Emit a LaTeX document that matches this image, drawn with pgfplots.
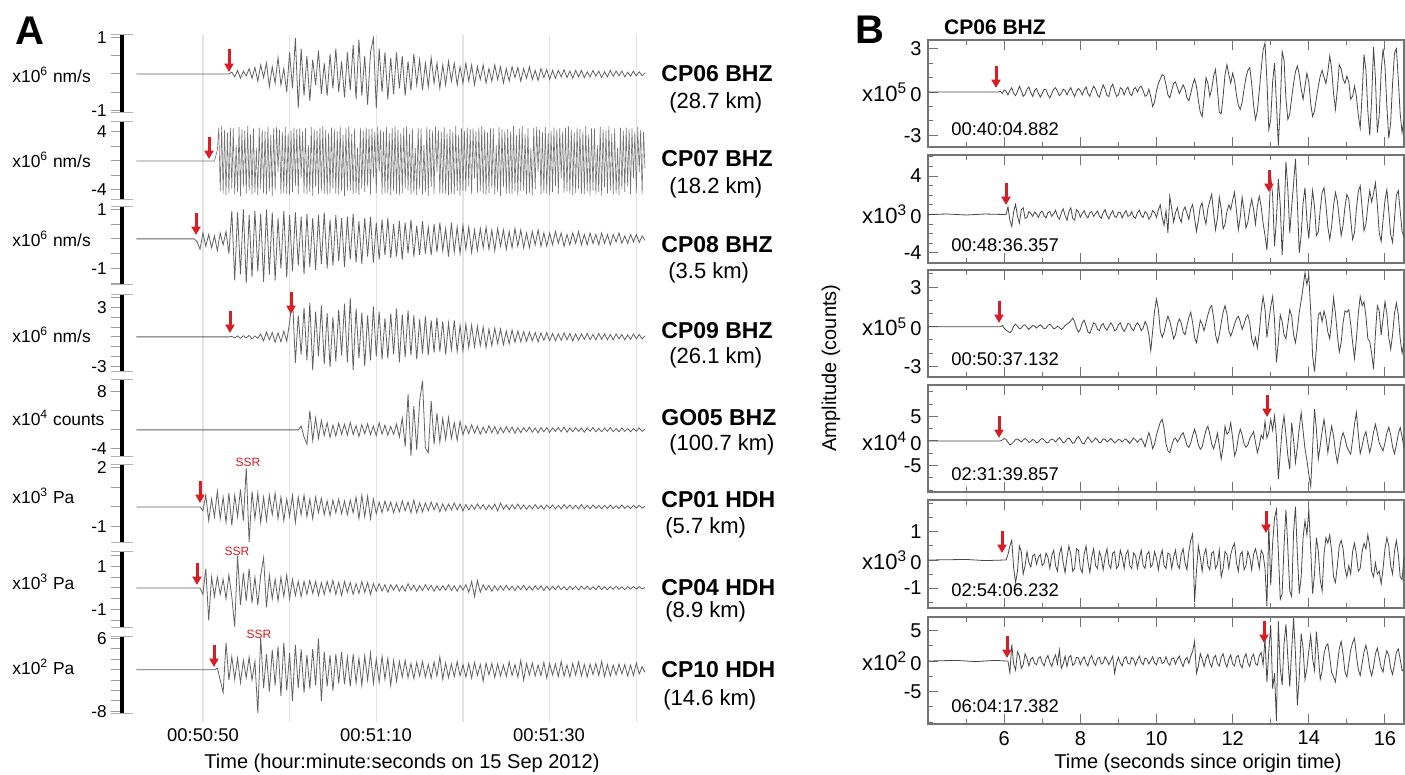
\documentclass[border=0pt]{standalone}
\usepackage{fontspec}
\setmainfont{Liberation Sans}
\usepackage{pgfplots}
\pgfplotsset{compat=1.18}
\usetikzlibrary{arrows.meta}
\definecolor{arr}{RGB}{218,28,36}
\newcommand\fs[1]{\fontsize{#1}{#1}\selectfont}
\tikzset{rarr/.style={draw=arr, line width=1.5pt, -{Triangle[width=4.5pt,length=4.2pt]}}}
\pgfplotsset{
 atr/.style={scale only axis, width=261.5pt, xmin=122, xmax=303, anchor=south west,
   axis x line=none, axis y line*=left, clip=false,
   y axis line style={line width=1.6pt, black, -},
   tick align=outside, major tick length=5.5pt,
   tick style={gray!75, line width=0.5pt},
   yticklabel style={font=\fs{8.6}, inner sep=0pt, xshift=-2pt},
   no markers, cycle list={{black!62, line width=0.38pt, line join=round}},
   extra description/.code={\draw[gray!60, line width=0.5pt] (0,0) ++(-5.5pt,0) -- ++(11pt,0); \draw[gray!60, line width=0.5pt] (0,1) ++(-5.5pt,0) -- ++(11pt,0);},
 },
 btr/.style={scale only axis, width=238pt, xmin=80, xmax=330, anchor=south west,
   axis line style={black!55, line width=0.6pt},
   xtick={120,160,...,320}, minor xtick={100,140,...,300}, xticklabels={},
   tick align=inside, ytick pos=left, xtick pos=both,
   major tick length=5pt, minor tick length=2.5pt,
   tick style={black!55, line width=0.5pt},
   yticklabel style={font=\fs{10}, inner sep=0pt, xshift=-3pt},
   no markers, cycle list={{black!72, line width=0.45pt, line join=round}},
 },
}
\begin{document}
\begin{tikzpicture}
\useasboundingbox (0,0) rectangle (702.5pt,387.5pt);
% grid for panel A
\begin{axis}[scale only axis, width=261.5pt, height=343.5pt, at={(61pt,26.5pt)}, anchor=south west,
  xmin=122, xmax=303, ymin=0, ymax=1, axis line style={draw=none}, major tick length=0pt,
  xtick={150,180,210,240,270,300}, xticklabels={}, ytick=\empty, xmajorgrids,
  major grid style={gray!22, line width=0.7pt}]
\addplot[draw=none] coordinates {(150,0.5)};
\end{axis}
% CP06
\begin{axis}[atr, height=39pt, at={(61pt,331pt)}, ymin=-1.08, ymax=1.08, ytick={-1,-0.5,0,0.5,1}, yticklabels={-1,{},{},{},1}]
\addplot coordinates {(127,0)(159,0)(160,0.05)(161,-0.08)(162,0.1)(163,-0.12)(164,0.08)(165,-0.05)(166,0.15)(167,-0.12)(168,0.18)(169,-0.2)
(170,0.25)(171,-0.1)(172,0.3)(173,-0.35)(174,0.2)(175,-0.25)(176,0.45)(177,-0.3)(178,0.15)(179,-0.5)
(180,0.6)(181,-0.4)(182,1.0)(183,-0.95)(184,0.7)(185,-0.6)(186,0.5)(187,-0.75)(188,0.4)(189,-0.3)
(190,0.65)(191,-0.55)(192,0.3)(193,-0.6)(194,0.55)(195,-0.4)(196,0.7)(197,-0.5)(198,0.35)(199,-0.65)
(200,0.6)(201,-0.45)(202,0.8)(203,-0.7)(204,0.95)(205,-0.6)(206,0.5)(207,-0.85)(208,0.6)(209,1.0)
(210,-0.95)(211,0.7)(212,-0.5)(213,0.6)(214,-0.7)(215,0.45)(216,-0.55)(217,0.6)(218,-0.4)(219,0.5)
(220,-0.6)(221,0.35)(222,-0.45)(223,0.55)(224,-0.3)(225,0.4)(226,-0.45)(227,0.3)(228,-0.35)(229,0.45)
(230,-0.25)(231,0.3)(232,-0.4)(233,0.25)(234,-0.3)(235,0.35)(236,-0.2)(237,0.3)(238,-0.3)(239,0.2)
(240,-0.25)(241,0.3)(242,-0.2)(243,0.25)(244,-0.3)(245,0.2)(246,-0.15)(247,0.25)(248,-0.25)(249,0.15)
(250,-0.2)(251,0.25)(252,-0.15)(253,0.2)(254,-0.25)(255,0.15)(256,-0.2)(257,0.2)(258,-0.1)(259,0.18)
(260,-0.2)(261,0.15)(262,-0.12)(263,0.2)(264,-0.15)(265,0.1)(266,-0.18)(267,0.15)(268,-0.1)(269,0.12)
(270,-0.15)(271,0.1)(272,-0.12)(273,0.1)(274,-0.08)(275,0.12)(276,-0.1)(277,0.08)(278,-0.12)(279,0.1)
(280,-0.08)(281,0.1)(282,-0.1)(283,0.06)(284,-0.08)(285,0.1)(286,-0.06)(287,0.08)(288,-0.1)(289,0.06)
(290,-0.08)(291,0.1)(292,-0.06)(293,0.08)(294,-0.05)(295,0.08)(296,-0.08)(297,0.05)(298,-0.06)(299,0.08)
(300,-0.05)(301,0.06)(302,-0.05)(303,0.03)};
\end{axis}
% CP07
\begin{axis}[atr, height=39pt, at={(61pt,287.5pt)}, ymin=-5.38, ymax=5.38, ytick={-4,-2,0,2,4}, yticklabels={-4,{},{},{},4}]
\addplot[black!55, line width=0.3pt] coordinates {(127,0)(154,0)(155,1.5)
(155.5,4.6)(156,-4.2)(156.5,4.8)(157,-4.5)(157.5,4.3)(158,-4.7)(158.5,3.9)(159,-4.4)(159.5,4.6)(160,-3.8)
(160.5,4.5)(161,-4.6)(161.5,2.2)(162,-4.3)(162.5,4.7)(163,-4.8)(163.5,4.4)(164,-3.6)(164.5,4.2)(165,-4.5)
(165.5,4.8)(166,-4.1)(166.5,3.7)(167,-4.6)(167.5,4.5)(168,-4.4)(168.5,1.8)(169,-4.7)(169.5,4.6)(170,-3.9)
(170.5,4.4)(171,-4.5)(171.5,4.1)(172,-4.6)(172.5,4.8)(173,-4.2)(173.5,3.6)(174,-4.8)(174.5,4.5)(175,-4.1)
(175.5,4.7)(176,-1.5)(176.5,4.3)(177,-4.6)(177.5,4.0)(178,-4.4)(178.5,4.7)(179,-4.5)(179.5,3.8)(180,-4.7)
(180.5,4.2)(181,-4.3)(181.5,4.6)(182,-3.5)(182.5,4.4)(183,-4.6)(183.5,4.5)(184,-2.4)(184.5,4.1)(185,-4.4)
(185.5,4.5)(186,-4.6)(186.5,2.2)(187,-4.3)(187.5,4.7)(188,-4.8)(188.5,4.4)(189,-3.6)(189.5,4.2)(190,-4.5)
(190.5,4.6)(191,-4.2)(191.5,4.8)(192,-4.5)(192.5,4.3)(193,-4.7)(193.5,3.9)(194,-4.4)(194.5,4.6)(195,-3.8)
(195.5,4.4)(196,-4.5)(196.5,4.1)(197,-4.6)(197.5,4.8)(198,-4.2)(198.5,3.6)(199,-4.8)(199.5,4.5)(200,-4.1)
(200.5,4.8)(201,-4.1)(201.5,3.7)(202,-4.6)(202.5,4.5)(203,-4.4)(203.5,1.8)(204,-4.7)(204.5,4.6)(205,-3.9)
(205.5,4.2)(206,-4.3)(206.5,4.6)(207,-3.5)(207.5,4.4)(208,-4.6)(208.5,4.5)(209,-2.4)(209.5,4.1)(210,-4.4)
(210.5,4.7)(211,-1.5)(211.5,4.3)(212,-4.6)(212.5,4.0)(213,-4.4)(213.5,4.7)(214,-4.5)(214.5,3.8)(215,-4.7)
(215.5,4.6)(216,-4.2)(216.5,4.8)(217,-4.5)(217.5,4.3)(218,-4.7)(218.5,3.9)(219,-4.4)(219.5,4.6)(220,-3.8)
(220.5,4.8)(221,-4.1)(221.5,3.7)(222,-4.6)(222.5,4.5)(223,-4.4)(223.5,1.8)(224,-4.7)(224.5,4.6)(225,-3.9)
(225.5,4.5)(226,-4.6)(226.5,2.2)(227,-4.3)(227.5,4.7)(228,-4.8)(228.5,4.4)(229,-3.6)(229.5,4.2)(230,-4.5)
(230.5,4.7)(231,-1.5)(231.5,4.3)(232,-4.6)(232.5,4.0)(233,-4.4)(233.5,4.7)(234,-4.5)(234.5,3.8)(235,-4.7)
(235.5,4.4)(236,-4.5)(236.5,4.1)(237,-4.6)(237.5,4.8)(238,-4.2)(238.5,3.6)(239,-4.8)(239.5,4.5)(240,-4.1)
(240.5,4.2)(241,-4.3)(241.5,4.6)(242,-3.5)(242.5,4.4)(243,-4.6)(243.5,4.5)(244,-2.4)(244.5,4.1)(245,-4.4)
(245.5,4.6)(246,-4.2)(246.5,4.8)(247,-4.5)(247.5,4.3)(248,-4.7)(248.5,3.9)(249,-4.4)(249.5,4.6)(250,-3.8)
(250.5,4.5)(251,-4.6)(251.5,2.2)(252,-4.3)(252.5,4.7)(253,-4.8)(253.5,4.4)(254,-3.6)(254.5,4.2)(255,-4.5)
(255.5,4.4)(256,-4.5)(256.5,4.1)(257,-4.6)(257.5,4.8)(258,-4.2)(258.5,3.6)(259,-4.8)(259.5,4.5)(260,-4.1)
(260.5,4.8)(261,-4.1)(261.5,3.7)(262,-4.6)(262.5,4.5)(263,-4.4)(263.5,1.8)(264,-4.7)(264.5,4.6)(265,-3.9)
(265.5,4.7)(266,-1.5)(266.5,4.3)(267,-4.6)(267.5,4.0)(268,-4.4)(268.5,4.7)(269,-4.5)(269.5,3.8)(270,-4.7)
(270.5,4.2)(271,-4.3)(271.5,4.6)(272,-3.5)(272.5,4.4)(273,-4.6)(273.5,4.5)(274,-2.4)(274.5,4.1)(275,-4.4)
(275.5,4.6)(276,-4.2)(276.5,4.8)(277,-4.5)(277.5,4.3)(278,-4.7)(278.5,3.9)(279,-4.4)(279.5,4.6)(280,-3.8)
(280.5,4.4)(281,-4.5)(281.5,4.1)(282,-4.6)(282.5,4.8)(283,-4.2)(283.5,3.6)(284,-4.8)(284.5,4.5)(285,-4.1)
(285.5,4.5)(286,-4.6)(286.5,2.2)(287,-4.3)(287.5,4.7)(288,-4.8)(288.5,4.4)(289,-3.6)(289.5,4.2)(290,-4.5)
(290.5,4.8)(291,-4.1)(291.5,3.7)(292,-4.6)(292.5,4.5)(293,-4.4)(293.5,1.8)(294,-4.7)(294.5,4.6)(295,-3.9)
(295.5,4.2)(296,-4.3)(296.5,4.6)(297,-3.5)(297.5,4.4)(298,-4.6)(298.5,4.5)(299,-2.4)(299.5,4.1)(300,-4.4)
(300.5,4.7)(301,-1.5)(301.5,4.3)(302,-4.6)(302.5,4.0)(303,-1.0)};
\end{axis}
% CP08
\begin{axis}[atr, height=39pt, at={(61pt,245pt)}, ymin=-1.56, ymax=1.08, ytick={-1.5,-1,-0.5,0,0.5,1}, yticklabels={{},-1,{},{},{},1}]
\addplot coordinates {(127,0)(147,0)(148,-0.1)(149,-0.35)(150,0.2)(151,-0.25)(152,0.15)(153,-0.3)(154,0.1)(155,-0.4)(156,0.2)(157,-0.2)(158,0.25)(159,-0.5)
(160,0.95)(161,-1.4)(162,0.9)(163,-1.2)(164,1.0)(165,-1.5)(166,0.8)(167,-1.3)(168,0.95)(169,-1.1)
(170,0.85)(171,-1.45)(172,1.0)(173,-1.2)(174,0.9)(175,-1.4)(176,0.7)(177,-1.0)(178,0.95)(179,-1.3)
(180,0.8)(181,-1.1)(182,0.9)(183,-0.9)(184,0.75)(185,-1.2)(186,0.85)(187,-0.95)(188,0.7)(189,-1.05)
(190,0.8)(191,-0.85)(192,0.9)(193,-1.0)(194,0.65)(195,-0.9)(196,0.8)(197,-0.75)(198,0.7)(199,-0.95)
(200,0.75)(201,-0.7)(202,0.85)(203,-0.8)(204,0.6)(205,-0.85)(206,0.7)(207,-0.6)(208,0.75)(209,-0.8)
(210,0.55)(211,-0.7)(212,0.65)(213,-0.55)(214,0.7)(215,-0.65)(216,0.5)(217,-0.6)(218,0.6)(219,-0.7)
(220,0.55)(221,-0.5)(222,0.65)(223,-0.6)(224,0.45)(225,-0.55)(226,0.6)(227,-0.5)(228,0.4)(229,-0.55)
(230,0.5)(231,-0.45)(232,0.55)(233,-0.4)(234,0.35)(235,-0.6)(236,0.55)(237,-0.45)(238,0.4)(239,-0.5)
(240,0.45)(241,-0.35)(242,0.4)(243,-0.45)(244,0.3)(245,-0.4)(246,0.35)(247,-0.3)(248,0.4)(249,-0.35)
(250,0.3)(251,-0.4)(252,0.35)(253,-0.25)(254,0.3)(255,-0.35)(256,0.25)(257,-0.3)(258,0.35)(259,-0.25)
(260,0.3)(261,-0.3)(262,0.2)(263,-0.3)(264,0.25)(265,-0.2)(266,0.3)(267,-0.25)(268,0.2)(269,-0.25)
(270,0.2)(271,-0.2)(272,0.25)(273,-0.15)(274,0.2)(275,-0.25)(276,0.15)(277,-0.2)(278,0.2)(279,-0.15)
(280,0.25)(281,-0.2)(282,0.15)(283,-0.2)(284,0.2)(285,-0.15)(286,0.15)(287,-0.2)(288,0.2)(289,-0.15)
(290,0.15)(291,-0.2)(292,0.15)(293,-0.1)(294,0.2)(295,-0.15)(296,0.1)(297,-0.15)(298,0.15)(299,-0.1)
(300,0.15)(301,-0.12)(302,0.1)(303,-0.05)};
\end{axis}
% CP09
\begin{axis}[atr, height=38.5pt, at={(61pt,201.5pt)}, ymin=-3.6, ymax=4.3, ytick={-3,-2,-1,0,1,2,3,4}, yticklabels={-3,{},{},{},{},{},3,{}}]
\addplot coordinates {(127,0)(159,0)(160,0.05)(161,-0.1)(162,0.1)(163,-0.15)(164,0.12)(165,-0.1)(166,0.15)(167,-0.2)(168,0.1)(169,-0.15)
(170,0.3)(171,-0.4)(172,0.5)(173,-0.3)(174,0.45)(175,-0.55)(176,0.4)(177,-0.5)(178,0.6)(179,-0.45)
(180,1.5)(181,4.1)(182,-2.65)(183,2.2)(184,-1.8)(185,3.0)(186,-2.4)(187,3.5)(188,-3.4)(189,2.6)
(190,-2.0)(191,3.2)(192,-2.8)(193,2.4)(194,-3.1)(195,2.0)(196,-2.5)(197,2.8)(198,-1.9)(199,3.4)
(200,-2.6)(201,4.0)(202,-3.4)(203,2.9)(204,-2.2)(205,2.5)(206,-3.0)(207,2.2)(208,-2.4)(209,3.1)
(210,-2.0)(211,2.6)(212,-2.3)(213,1.9)(214,-2.2)(215,2.4)(216,-1.8)(217,2.9)(218,-2.6)(219,2.3)
(220,-2.1)(221,2.7)(222,-1.9)(223,2.2)(224,-2.3)(225,1.8)(226,-1.7)(227,2.1)(228,-1.9)(229,1.7)
(230,-1.6)(231,2.0)(232,-1.5)(233,1.6)(234,-1.8)(235,1.4)(236,-1.3)(237,1.7)(238,-1.5)(239,1.2)
(240,-1.4)(241,1.3)(242,-1.1)(243,1.2)(244,-1.0)(245,1.1)(246,-0.9)(247,1.0)(248,-1.1)(249,0.8)
(250,-0.9)(251,0.9)(252,-0.7)(253,0.8)(254,-0.8)(255,0.6)(256,-0.7)(257,0.7)(258,-0.55)(259,0.6)
(260,-0.5)(261,0.55)(262,-0.45)(263,0.5)(264,-0.4)(265,0.45)(266,-0.5)(267,0.4)(268,-0.35)(269,0.45)
(270,-0.4)(271,0.35)(272,-0.4)(273,0.3)(274,-0.35)(275,0.4)(276,-0.3)(277,0.35)(278,-0.4)(279,0.3)
(280,-0.35)(281,0.3)(282,-0.25)(283,0.35)(284,-0.3)(285,0.25)(286,-0.3)(287,0.35)(288,-0.25)(289,0.3)
(290,-0.3)(291,0.25)(292,-0.3)(293,0.3)(294,-0.2)(295,0.25)(296,-0.3)(297,0.2)(298,-0.25)(299,0.3)
(300,-0.2)(301,0.25)(302,-0.2)(303,0.1)};
\end{axis}
% GO05
\begin{axis}[atr, height=38.5pt, at={(61pt,159pt)}, ymin=-5.7, ymax=10.5, ytick={-4,0,4,8}, yticklabels={-4,{},{},8}]
\addplot coordinates {(127,0)(183,0)(184,0.8)(185,-1.5)(186,-3.0)(187,4.0)(188,-2.2)(189,2.5)
(190,-1.8)(191,2.0)(192,-1.2)(193,1.5)(194,-1.6)(195,1.0)(196,-1.3)(197,1.4)(198,-0.9)(199,1.2)
(200,-1.1)(201,1.6)(202,-1.0)(203,0.9)(204,-1.4)(205,1.1)(206,-0.8)(207,1.3)(208,-1.0)(209,0.8)
(210,-1.2)(211,1.5)(212,-0.9)(213,1.0)(214,-1.1)(215,0.7)(216,-0.9)(217,1.2)(218,-1.5)(219,2.5)
(220,-3.5)(221,7.5)(222,-5.5)(223,5.0)(224,-4.2)(225,6.0)(226,10.3)(227,-3.8)(228,-4.8)(229,6.1)
(230,-3.0)(231,3.5)(232,-2.6)(233,2.4)(234,-2.0)(235,2.6)(236,-1.8)(237,1.5)(238,-2.2)(239,1.8)
(240,-1.0)(241,0.9)(242,-0.8)(243,1.1)(244,-0.7)(245,0.8)(246,-0.9)(247,0.6)(248,-0.7)(249,0.9)
(250,-0.6)(251,0.7)(252,-0.8)(253,0.5)(254,-0.6)(255,0.7)(256,-0.5)(257,0.6)(258,-0.7)(259,0.5)
(260,-0.6)(261,0.5)(262,-0.4)(263,0.6)(264,-0.5)(265,0.4)(266,-0.6)(267,0.5)(268,-0.4)(269,0.5)
(270,-0.5)(271,0.4)(272,-0.3)(273,0.5)(274,-0.4)(275,0.6)(276,-0.5)(277,0.4)(278,-0.4)(279,0.5)
(280,-0.3)(281,0.4)(282,-0.5)(283,0.4)(284,-0.3)(285,0.5)(286,-0.4)(287,0.3)(288,-0.4)(289,0.4)
(290,-0.3)(291,0.5)(292,-0.4)(293,0.3)(294,-0.4)(295,0.4)(296,-0.3)(297,0.3)(298,-0.4)(299,0.3)
(300,-0.3)(301,0.4)(302,-0.3)(303,0.1)};
\end{axis}
% CP01
\begin{axis}[atr, height=39pt, at={(61pt,116pt)}, ymin=-1.85, ymax=2.15, ytick={-1,0,1,2}, yticklabels={-1,{},{},2}]
\addplot coordinates {(127,0)(149,0)(150,-0.2)(151,0.6)(152,-0.7)(153,0.4)(154,-0.5)(155,0.8)(156,-0.6)(157,0.5)(158,-0.8)(159,0.7)
(160,-0.95)(161,0.6)(162,-0.5)(163,0.9)(164,-0.7)(165,2.0)(166,-1.8)(167,0.8)(168,-0.6)(169,0.7)
(170,-0.8)(171,0.5)(172,-0.7)(173,0.6)(174,-0.4)(175,0.7)(176,-0.6)(177,0.5)(178,-0.7)(179,0.4)
(180,-0.5)(181,0.6)(182,-0.8)(183,0.5)(184,-0.4)(185,0.6)(186,-0.5)(187,0.4)(188,-0.6)(189,0.5)
(190,-0.3)(191,0.45)(192,-0.4)(193,0.3)(194,-0.45)(195,0.35)(196,-0.3)(197,0.4)(198,-0.35)(199,0.3)
(200,-0.4)(201,0.35)(202,-0.3)(203,0.5)(204,-0.6)(205,0.6)(206,-0.5)(207,0.55)(208,-0.6)(209,0.4)
(210,-0.35)(211,0.25)(212,-0.3)(213,0.3)(214,-0.2)(215,0.25)(216,-0.3)(217,0.2)(218,-0.25)(219,0.3)
(220,-0.2)(221,0.25)(222,-0.3)(223,0.35)(224,-0.3)(225,0.2)(226,-0.25)(227,0.2)(228,-0.2)(229,0.25)
(230,-0.15)(231,0.2)(232,-0.25)(233,0.15)(234,-0.2)(235,0.15)(236,-0.15)(237,0.2)(238,-0.15)(239,0.15)
(240,-0.2)(241,0.12)(242,-0.15)(243,0.1)(244,-0.12)(245,0.15)(246,-0.1)(247,0.12)(248,-0.15)(249,0.1)
(250,-0.12)(251,0.15)(252,-0.2)(253,0.2)(254,-0.12)(255,0.1)(256,-0.15)(257,0.12)(258,-0.1)(259,0.15)
(260,-0.12)(261,0.1)(262,-0.12)(263,0.08)(264,-0.1)(265,0.12)(266,-0.1)(267,0.08)(268,-0.12)(269,0.1)
(270,-0.08)(271,0.1)(272,-0.1)(273,0.08)(274,-0.1)(275,0.12)(276,-0.08)(277,0.1)(278,-0.1)(279,0.08)
(280,-0.1)(281,0.12)(282,-0.1)(283,0.08)(284,-0.1)(285,0.1)(286,-0.08)(287,0.08)(288,-0.1)(289,0.08)
(290,-0.08)(291,0.1)(292,-0.08)(293,0.06)(294,-0.08)(295,0.1)(296,-0.08)(297,0.06)(298,-0.08)(299,0.08)
(300,-0.06)(301,0.08)(302,-0.06)(303,0.03)};
\end{axis}
% CP04
\begin{axis}[atr, height=38pt, at={(61pt,73.5pt)}, ymin=-1.86, ymax=1.67, ytick={-1.5,-1,-0.5,0,0.5,1,1.5}, yticklabels={{},-1,{},{},{},1,{}}]
\addplot coordinates {(127,0)(149,0)(150,-0.3)(151,0.9)(152,-1.5)(153,0.5)(154,-0.4)(155,0.5)(156,-0.3)(157,0.4)(158,-0.5)(159,0.6)
(160,-0.4)(161,-1.8)(162,1.5)(163,-0.8)(164,0.7)(165,-0.6)(166,0.9)(167,-0.7)(168,0.5)(169,-0.8)
(170,0.6)(171,1.4)(172,-0.9)(173,0.6)(174,-0.5)(175,0.4)(176,-0.6)(177,0.5)(178,-0.4)(179,0.6)
(180,-0.5)(181,0.4)(182,-0.35)(183,0.3)(184,-0.4)(185,0.3)(186,-0.3)(187,0.35)(188,-0.25)(189,0.3)
(190,-0.35)(191,0.25)(192,-0.3)(193,0.3)(194,-0.2)(195,0.35)(196,-0.3)(197,0.25)(198,-0.35)(199,0.3)
(200,-0.2)(201,0.25)(202,-0.3)(203,0.2)(204,-0.25)(205,0.3)(206,-0.2)(207,0.25)(208,-0.3)(209,0.2)
(210,-0.15)(211,0.2)(212,-0.15)(213,0.15)(214,-0.2)(215,0.15)(216,-0.1)(217,0.15)(218,-0.15)(219,0.1)
(220,-0.15)(221,0.2)(222,-0.1)(223,0.12)(224,-0.15)(225,0.1)(226,-0.12)(227,0.15)(228,-0.1)(229,0.12)
(230,-0.15)(231,0.1)(232,-0.12)(233,0.1)(234,-0.1)(235,0.15)(236,-0.12)(237,0.1)(238,-0.15)(239,0.12)
(240,-0.1)(241,0.15)(242,-0.2)(243,0.3)(244,-0.4)(245,0.35)(246,-0.2)(247,0.15)(248,-0.1)(249,0.12)
(250,-0.15)(251,0.1)(252,-0.12)(253,0.1)(254,-0.1)(255,0.12)(256,-0.1)(257,0.08)(258,-0.12)(259,0.1)
(260,-0.08)(261,0.12)(262,-0.1)(263,0.08)(264,-0.1)(265,0.1)(266,-0.08)(267,0.1)(268,-0.12)(269,0.08)
(270,-0.1)(271,0.08)(272,-0.08)(273,0.1)(274,-0.08)(275,0.06)(276,-0.1)(277,0.08)(278,-0.06)(279,0.08)
(280,-0.1)(281,0.08)(282,-0.06)(283,0.08)(284,-0.08)(285,0.06)(286,-0.08)(287,0.1)(288,-0.08)(289,0.06)
(290,-0.08)(291,0.06)(292,-0.06)(293,0.08)(294,-0.06)(295,0.05)(296,-0.08)(297,0.06)(298,-0.05)(299,0.06)
(300,-0.05)(301,0.06)(302,-0.04)(303,0.02)};
\end{axis}
% CP10
\begin{axis}[atr, height=38.5pt, at={(61pt,30.5pt)}, ymin=-8.5, ymax=6.3, ytick={-8,-6,-4,-2,0,2,4,6}, yticklabels={-8,{},{},{},{},{},{},6}]
\addplot coordinates {(127,0)(154,0)(155,0.3)(156,-2.0)(157,-4.4)(158,5.2)(159,-2.0)
(160,2.5)(161,-1.8)(162,2.2)(163,-2.5)(164,1.8)(165,-1.5)(166,2.4)(167,-2.0)(168,1.6)(169,-8.3)
(170,6.2)(171,-3.5)(172,3.0)(173,-4.2)(174,3.8)(175,-3.0)(176,4.5)(177,-5.0)(178,5.2)(179,-4.0)
(180,3.2)(181,-6.0)(182,4.8)(183,-3.5)(184,3.9)(185,-4.4)(186,2.8)(187,-3.6)(188,4.0)(189,-3.0)
(190,6.0)(191,-6.0)(192,3.5)(193,-3.2)(194,2.8)(195,-4.0)(196,3.0)(197,-2.6)(198,3.4)(199,-2.8)
(200,2.4)(201,-3.2)(202,3.0)(203,-2.5)(204,2.2)(205,-3.0)(206,2.7)(207,-2.0)(208,3.2)(209,-2.6)
(210,2.0)(211,-2.4)(212,2.6)(213,-1.8)(214,2.2)(215,-3.0)(216,1.8)(217,-2.2)(218,1.6)(219,-1.4)
(220,1.8)(221,-1.5)(222,1.2)(223,-1.7)(224,1.4)(225,-1.2)(226,1.6)(227,-1.4)(228,1.0)(229,-1.6)
(230,1.5)(231,-1.2)(232,2.5)(233,-1.8)(234,1.3)(235,-1.5)(236,1.1)(237,-1.3)(238,1.6)(239,-1.2)
(240,1.0)(241,-1.4)(242,1.2)(243,-1.6)(244,1.4)(245,-1.1)(246,1.0)(247,-2.2)(248,1.3)(249,-1.0)
(250,1.2)(251,-1.5)(252,1.1)(253,-1.2)(254,0.9)(255,-1.3)(256,1.5)(257,-1.1)(258,1.0)(259,-1.4)
(260,1.8)(261,-2.0)(262,1.2)(263,-1.0)(264,1.3)(265,-1.2)(266,0.9)(267,-1.1)(268,1.4)(269,-1.6)
(270,1.2)(271,-1.0)(272,1.1)(273,-1.3)(274,1.6)(275,-1.2)(276,0.9)(277,-1.4)(278,1.2)(279,-1.0)
(280,1.5)(281,-1.2)(282,1.0)(283,-1.4)(284,1.1)(285,-0.9)(286,1.2)(287,-1.1)(288,1.6)(289,-1.3)
(290,1.0)(291,-1.2)(292,0.9)(293,-1.0)(294,1.1)(295,-0.8)(296,1.0)(297,-1.2)(298,0.9)(299,-1.1)
(300,1.3)(301,-0.8)(302,0.6)(303,-0.5)};
\end{axis}
% ---------------- Panel B
% B1
\begin{axis}[btr, height=53.5pt, at={(464pt,314pt)}, ymin=-3.8, ymax=3.6, ytick={-3,0,3}, minor ytick={-2,-1,1,2}, yticklabels={-3,{{\fs{11}x10\textsuperscript{5}}\,0},3}]
\addplot coordinates {(80,0)(117,0)(118,0.05)(119,-0.1)(120,0.15)(121,0.05)(122,-0.2)(123,0.1)(124,0.3)(125,-0.1)(126,-0.25)(127,0.05)(128,0.4)(129,0.1)
(130,-0.3)(131,-0.15)(132,0.2)(133,0.35)(134,-0.05)(135,-0.3)(136,0.1)(137,0.25)(138,-0.1)(139,-0.35)
(140,-0.1)(141,0.2)(142,0.15)(143,-0.2)(144,-0.4)(145,-0.1)(146,0.2)(147,0.3)(148,0.05)(149,-0.25)
(150,-0.1)(151,0.2)(152,0.1)(153,-0.2)(154,0.1)(155,0.3)(156,-0.05)(157,-0.3)(158,0.05)(159,0.25)
(160,0.1)(161,-0.2)(162,0.15)(163,0.35)(164,-0.1)(165,-0.3)(166,0.1)(167,0.4)(168,0.2)(169,-0.2)
(170,-0.35)(171,0.1)(172,0.5)(173,0.2)(174,-0.25)(175,-0.3)(176,0.3)(177,0.55)(178,0.1)(179,-0.3)
(180,-0.2)(181,0.3)(182,0.2)(183,-0.2)(184,0.15)(185,0.35)(186,-0.1)(187,-0.25)(188,0.2)(189,0.3)
(190,0)(191,0.3)(192,0.4)(193,0.1)(194,-0.3)(195,-0.2)(196,0.2)(197,-0.3)(198,-1.0)(199,-0.7)
(200,0.1)(201,0.6)(202,0.9)(203,1.2)(204,1.1)(205,0.5)(206,-0.2)(207,-0.4)(208,0.1)(209,0.6)
(210,0.7)(211,0.3)(212,-0.1)(213,0.2)(214,0.5)(215,0.2)(216,-0.4)(217,-0.6)(218,-0.1)(219,0.5)
(220,0.9)(221,0.4)(222,-0.6)(223,-1.4)(224,-1.7)(225,-0.4)(226,1.0)(227,0.6)(228,-0.3)(229,0.2)
(230,1.1)(231,1.55)(232,0.2)(233,-1.4)(234,-1.5)(235,-0.3)(236,1.2)(237,1.9)(238,1.2)(239,0.6)
(240,1.3)(241,0.8)(242,-0.2)(243,-0.9)(244,-1.2)(245,-0.7)(246,0.2)(247,1.0)(248,1.5)(249,1.7)
(250,0.6)(251,-0.9)(252,-1.9)(253,-1.3)(254,0.1)(255,1.6)(256,2.9)(257,3.4)(258,0.8)(259,-2.6)
(260,-1.9)(261,0.7)(262,2.0)(263,-0.8)(264,-3.7)(265,-1.0)(266,2.8)(267,2.2)(268,-0.5)(269,-1.9)
(270,-1.5)(271,-0.4)(272,0.6)(273,1.4)(274,1.8)(275,1.2)(276,0.2)(277,-0.5)(278,0.4)(279,1.3)
(280,0.7)(281,-0.8)(282,-1.7)(283,-1.3)(284,-0.4)(285,0.4)(286,1.1)(287,1.5)(288,1.0)(289,0.6)
(290,1.4)(291,2.5)(292,1.6)(293,-0.1)(294,-1.2)(295,0.2)(296,1.9)(297,1.6)(298,0.9)(299,0.6)
(300,1.1)(301,0.7)(302,-0.5)(303,-0.3)(304,0.4)(305,-0.3)(306,-1.6)(307,-2.5)(308,-0.2)(309,2.6)
(310,1.5)(311,-1.3)(312,-3.0)(313,-0.5)(314,3.1)(315,0.9)(316,-2.8)(317,-1.6)(318,1.4)(319,3.0)
(320,1.8)(321,-1.0)(322,-3.2)(323,-2.1)(324,0.6)(325,2.7)(326,3.0)(327,0.9)(328,-1.5)(329,-2.8)(330,-1.9)};
\node[anchor=west, font=\fs{9.2}, inner sep=0pt, xshift=11.5pt, yshift=9pt] at (rel axis cs:0,0) {00:40:04.882};
\end{axis}
% B2
\begin{axis}[btr, height=54pt, at={(464pt,256pt)}, ymin=-5.05, ymax=6.2, ytick={-4,0,4}, minor ytick={-5,-3,-2,-1,1,2,3,5,6}, yticklabels={-4,{{\fs{11}x10\textsuperscript{3}}\,0},4}]
\addplot coordinates {(80,0)(90,0.05)(100,-0.05)(110,0.05)(120,0)(121,0)(122,0.8)(123,-0.6)(124,-1.25)(125,0.3)(126,1.05)(127,-0.2)(128,-0.9)(129,0.5)
(130,0.7)(131,-0.4)(132,-0.3)(133,0.3)(134,0.1)(135,-0.2)(136,0.25)(137,0.05)(138,-0.3)(139,0.2)
(140,0.35)(141,-0.15)(142,-0.35)(143,0.2)(144,0.3)(145,-0.2)(146,0.1)(147,0.45)(148,-0.2)(149,-0.5)
(150,0.15)(151,0.6)(152,-0.1)(153,-0.6)(154,0.3)(155,0.7)(156,-0.4)(157,-0.6)(158,0.5)(159,0.3)
(160,-0.3)(161,0.1)(162,0.4)(163,-0.1)(164,-0.35)(165,0.2)(166,0.3)(167,-0.2)(168,0.1)(169,0.35)
(170,-0.15)(171,-0.4)(172,0.2)(173,0.5)(174,-0.1)(175,-0.45)(176,0.05)(177,0.4)(178,-0.2)(179,-0.3)
(180,0.25)(181,0.2)(182,-0.35)(183,0.1)(184,0.4)(185,-0.2)(186,-0.1)(187,0.3)(188,-0.25)(189,-0.4)
(190,0.2)(191,0.45)(192,-0.1)(193,-0.3)(194,0.3)(195,0.1)(196,-0.5)(197,-0.2)(198,0.4)(199,0.2)
(200,-0.3)(201,0.5)(202,1.0)(203,-0.3)(204,-1.1)(205,0.4)(206,-1.9)(207,1.9)(208,0.6)(209,-0.8)
(210,0.2)(211,0.7)(212,-0.3)(213,-0.8)(214,0.4)(215,0.8)(216,0.1)(217,-0.5)(218,0.6)(219,1.05)
(220,-0.4)(221,-1.75)(222,-0.6)(223,0.8)(224,1.2)(225,-0.2)(226,-1.0)(227,0.6)(228,1.4)(229,2.1)
(230,0.2)(231,-1.6)(232,-0.4)(233,1.8)(234,0.6)(235,-1.5)(236,-1.0)(237,0.3)(238,1.0)(239,0.5)
(240,1.5)(241,2.3)(242,0.4)(243,-1.6)(244,-0.3)(245,1.8)(246,0.4)(247,-1.4)(248,-0.8)(249,0.6)
(250,1.6)(251,0.5)(252,-1.0)(253,0.9)(254,1.9)(255,0.8)(256,-0.9)(257,-2.2)(258,-3.7)(259,-0.5)
(260,4.0)(261,2.0)(262,-3.3)(263,-0.5)(264,3.7)(265,1.0)(266,-4.2)(267,-0.3)(268,5.5)(269,2.6)
(270,-1.9)(271,0.8)(272,3.2)(273,5.8)(274,1.2)(275,-4.0)(276,-2.1)(277,1.2)(278,2.8)(279,-0.6)
(280,-2.5)(281,0.2)(282,2.5)(283,0.8)(284,-2.2)(285,-1.8)(286,0.5)(287,2.3)(288,2.8)(289,1.0)
(290,-1.3)(291,-2.6)(292,-1.2)(293,0.9)(294,2.3)(295,1.4)(296,-0.4)(297,-2.2)(298,-1.1)(299,0.8)
(300,2.1)(301,1.6)(302,-0.5)(303,-2.6)(304,-1.9)(305,0.6)(306,2.4)(307,3.0)(308,0.7)(309,-1.7)
(310,-1.0)(311,0.9)(312,2.5)(313,1.3)(314,2.2)(315,3.3)(316,1.0)(317,-1.9)(318,-2.8)(319,-0.6)
(320,1.5)(321,2.6)(322,0.3)(323,-2.1)(324,-2.9)(325,-0.4)(326,2.0)(327,2.5)(328,0.4)(329,-1.8)(330,-2.3)};
\node[anchor=west, font=\fs{9.2}, inner sep=0pt, xshift=11.5pt, yshift=9pt] at (rel axis cs:0,0) {00:48:36.357};
\end{axis}
% B3
\begin{axis}[btr, height=53.5pt, at={(464pt,199pt)}, ymin=-3.8, ymax=4.3, ytick={-3,0,3}, minor ytick={-2,-1,1,2,4}, yticklabels={-3,{{\fs{11}x10\textsuperscript{5}}\,0},3}]
\addplot coordinates {(80,0)(117,0)(118,0)(119,0.1)(120,-0.1)(121,-0.25)(122,-0.35)(123,-0.45)(124,-0.3)(125,0.05)(126,0.2)(127,0.05)(128,-0.15)(129,-0.1)
(130,0.1)(131,0.15)(132,-0.05)(133,-0.2)(134,-0.05)(135,0.1)(136,0.05)(137,-0.1)(138,0.05)(139,0.15)
(140,0)(141,-0.15)(142,-0.1)(143,0.1)(144,0.2)(145,0.05)(146,-0.15)(147,-0.1)(148,0.05)(149,-0.05)
(150,-0.2)(151,-0.1)(152,0.1)(153,0.2)(154,0.3)(155,0.45)(156,0.65)(157,0.4)(158,-0.1)(159,-0.4)
(160,-0.2)(161,0.3)(162,0.5)(163,0.1)(164,-0.4)(165,-0.5)(166,-0.1)(167,0.3)(168,0.2)(169,-0.2)
(170,-0.3)(171,0.1)(172,0.25)(173,-0.1)(174,-0.25)(175,0.05)(176,0.3)(177,0.1)(178,-0.3)(179,-0.2)
(180,0.15)(181,0.3)(182,-0.1)(183,-0.35)(184,-0.1)(185,0.25)(186,0.2)(187,-0.15)(188,-0.3)(189,0.1)
(190,0.3)(191,0.1)(192,-0.3)(193,-0.1)(194,0.4)(195,0.1)(196,-0.6)(197,-1.8)(198,-0.3)(199,1.2)
(200,2.1)(201,1.3)(202,-0.3)(203,-0.8)(204,-0.4)(205,0.3)(206,0.8)(207,0.4)(208,-0.2)(209,-0.9)
(210,-0.6)(211,0.2)(212,0.6)(213,0.3)(214,-0.4)(215,-0.6)(216,0.1)(217,0.7)(218,1.1)(219,0.3)
(220,-0.8)(221,-1.2)(222,-0.4)(223,0.5)(224,0.2)(225,-0.3)(226,0.3)(227,0.9)(228,1.4)(229,1.6)
(230,0.7)(231,-0.6)(232,-1.2)(233,-0.6)(234,0.3)(235,1.1)(236,1.6)(237,1.0)(238,-0.3)(239,-0.7)
(240,-0.3)(241,0.2)(242,0.6)(243,0.8)(244,0.4)(245,-0.2)(246,0.2)(247,0.7)(248,0.9)(249,0.3)
(250,-0.9)(251,-1.4)(252,-0.8)(253,-1.6)(254,-0.4)(255,1.2)(256,2.3)(257,1.3)(258,-0.8)(259,0.4)
(260,1.5)(261,2.3)(262,0.5)(263,-2.7)(264,-1.1)(265,0.9)(266,0.4)(267,-0.6)(268,-0.9)(269,0.2)
(270,1.3)(271,0.8)(272,-0.6)(273,-1.2)(274,-0.2)(275,1.1)(276,2.0)(277,3.0)(278,4.1)(279,3.2)
(280,3.9)(281,1.2)(282,-2.2)(283,-3.4)(284,-1.6)(285,0.9)(286,1.1)(287,0.4)(288,1.2)(289,0.6)
(290,-0.4)(291,-0.9)(292,0.5)(293,2.2)(294,1.0)(295,-0.6)(296,-1.9)(297,-1.2)(298,0.3)(299,1.2)
(300,1.1)(301,1.3)(302,0.2)(303,-1.2)(304,-2.4)(305,-0.9)(306,1.0)(307,2.3)(308,1.6)(309,1.9)
(310,0.8)(311,-0.9)(312,-1.1)(313,-2.0)(314,-3.2)(315,-0.5)(316,1.6)(317,1.2)(318,-0.6)(319,0.6)
(320,1.9)(321,1.0)(322,-0.8)(323,-1.7)(324,-0.6)(325,1.0)(326,1.8)(327,0.9)(328,-0.9)(329,-2.0)(330,-1.2)};
\node[anchor=west, font=\fs{9.2}, inner sep=0pt, xshift=11.5pt, yshift=9pt] at (rel axis cs:0,0) {00:50:37.132};
\end{axis}
% B4
\begin{axis}[btr, height=53.5pt, at={(464pt,141.5pt)}, ymin=-10.4, ymax=11.4, ytick={-5,0,5}, minor ytick={-10,-7.5,-2.5,2.5,7.5,10}, yticklabels={-5,{{\fs{11}x10\textsuperscript{4}}\,0},5}]
\addplot coordinates {(80,0)(118,0)(119,0.2)(120,0.5)(121,0.3)(122,-0.3)(123,-0.8)(124,-0.6)(125,-0.2)(126,0.3)(127,0.4)(128,0.1)(129,-0.2)
(130,0.2)(131,0.5)(132,0.2)(133,-0.3)(134,-0.1)(135,0.3)(136,0.1)(137,-0.4)(138,-0.2)(139,0.3)
(140,0.5)(141,0.2)(142,-0.3)(143,-0.4)(144,0.1)(145,0.4)(146,0.2)(147,-0.2)(148,0.3)(149,0.7)
(150,0.2)(151,-0.4)(152,-0.2)(153,0.4)(154,0.6)(155,0.1)(156,-0.5)(157,-0.3)(158,0.5)(159,0.9)
(160,0.3)(161,-0.5)(162,-0.6)(163,0.2)(164,0.8)(165,0.3)(166,-0.3)(167,0.1)(168,0.6)(169,0.2)
(170,-0.4)(171,-0.2)(172,0.4)(173,0.3)(174,-0.2)(175,0.1)(176,0.5)(177,0.1)(178,-0.4)(179,-0.1)
(180,0.3)(181,0.2)(182,-0.2)(183,0.2)(184,0.4)(185,-0.1)(186,-0.5)(187,0.1)(188,0.6)(189,0.2)
(190,-0.3)(191,0.2)(192,0.5)(193,-0.2)(194,-1.2)(195,0.3)(196,1.7)(197,0.4)(198,-1.6)(199,-0.6)
(200,1.2)(201,2.6)(202,3.8)(203,4.4)(204,2.5)(205,-0.6)(206,-2.0)(207,-2.4)(208,-1.0)(209,0.3)
(210,0.6)(211,-0.2)(212,0.4)(213,1.2)(214,1.7)(215,0.5)(216,-0.9)(217,-1.3)(218,-0.4)(219,1.1)
(220,2.4)(221,1.0)(222,-0.8)(223,-1.7)(224,-1.2)(225,0.6)(226,2.2)(227,3.0)(228,1.4)(229,-0.6)
(230,-1.6)(231,-0.2)(232,1.6)(233,-0.9)(234,-3.7)(235,-1.2)(236,3.0)(237,1.4)(238,1.8)(239,3.7)
(240,0.6)(241,-3.0)(242,-1.9)(243,0.8)(244,2.4)(245,1.2)(246,-0.6)(247,-1.3)(248,-0.8)(249,0.5)
(250,1.2)(251,1.9)(252,-0.3)(253,-2.4)(254,-0.9)(255,1.2)(256,0.4)(257,4.0)(258,0.6)(259,1.8)
(260,4.4)(261,2.2)(262,5.1)(263,0.8)(264,-7.8)(265,-2.6)(266,2.4)(267,5.1)(268,1.2)(269,-3.0)
(270,-5.8)(271,3.7)(272,0.2)(273,-4.4)(274,-1.2)(275,2.6)(276,5.8)(277,2.0)(278,-1.6)(279,-3.9)
(280,-6.8)(281,-9.2)(282,-1.5)(283,6.5)(284,2.3)(285,-3.7)(286,-1.0)(287,2.0)(288,4.4)(289,1.2)
(290,-2.4)(291,0.6)(292,3.0)(293,1.0)(294,-2.2)(295,-4.4)(296,-2.0)(297,0.4)(298,1.7)(299,0.5)
(300,-1.2)(301,-2.0)(302,-2.7)(303,0.2)(304,3.4)(305,5.8)(306,1.4)(307,-2.6)(308,-1.0)(309,0.9)
(310,1.9)(311,-0.4)(312,-2.4)(313,-0.6)(314,1.8)(315,3.4)(316,1.6)(317,-0.4)(318,-1.3)(319,-2.0)
(320,-0.4)(321,1.6)(322,2.8)(323,1.2)(324,-1.2)(325,-2.6)(326,-0.8)(327,1.4)(328,2.7)(329,0.9)(330,-1.5)};
\node[anchor=west, font=\fs{9.2}, inner sep=0pt, xshift=11.5pt, yshift=9pt] at (rel axis cs:0,0) {02:31:39.857};
\end{axis}
% B5
\begin{axis}[btr, height=54pt, at={(464pt,83.5pt)}, ymin=-1.71, ymax=2.14, ytick={-1,0,1}, minor ytick={-1.5,-0.5,0.5,1.5,2}, yticklabels={-1,{{\fs{11}x10\textsuperscript{3}}\,0},1}]
\addplot coordinates {(80,0)(100,0.02)(110,-0.02)(120,0)(121,0)(122,0.2)(123,0.5)(124,0.7)(125,-0.3)(126,-0.8)(127,-0.4)(128,0.5)(129,0.3)
(130,-0.5)(131,-0.2)(132,0.3)(133,-0.1)(134,-0.25)(135,0.15)(136,0.2)(137,-0.15)(138,0.1)(139,0.2)
(140,-0.2)(141,-0.1)(142,0.25)(143,0.1)(144,-0.3)(145,0.15)(146,0.35)(147,-0.2)(148,-0.4)(149,0.2)
(150,0.45)(151,-0.1)(152,-0.45)(153,0.1)(154,0.5)(155,0.2)(156,-0.4)(157,-0.3)(158,0.4)(159,0.35)
(160,-0.3)(161,-0.45)(162,0.2)(163,0.5)(164,-0.05)(165,-0.45)(166,0.1)(167,0.4)(168,-0.2)(169,-0.3)
(170,0.3)(171,0.1)(172,-0.35)(173,0.1)(174,0.4)(175,-0.15)(176,-0.3)(177,0.25)(178,0.3)(179,-0.3)
(180,-0.2)(181,0.35)(182,0.1)(183,-0.3)(184,0.2)(185,0.35)(186,-0.2)(187,-0.3)(188,0.25)(189,0.15)
(190,-0.3)(191,0.05)(192,0.35)(193,-0.2)(194,-0.3)(195,0.2)(196,0.3)(197,-0.25)(198,-0.15)(199,0.3)
(200,0.05)(201,-0.35)(202,0.1)(203,0.35)(204,-0.2)(205,-0.3)(206,0.25)(207,0.2)(208,-0.3)(209,0.1)
(210,0.35)(211,-0.15)(212,-0.3)(213,0.2)(214,0.4)(215,-0.1)(216,-0.35)(217,0.3)(218,0.7)(219,0.93)
(220,-1.5)(221,-0.4)(222,0.5)(223,0.1)(224,-0.4)(225,0.2)(226,0.4)(227,-0.2)(228,-0.35)(229,0.25)
(230,0.3)(231,-0.3)(232,-0.15)(233,0.35)(234,-0.6)(235,-0.3)(236,0.3)(237,0.2)(238,-0.3)(239,0.2)
(240,0.45)(241,0.6)(242,-0.1)(243,-0.4)(244,0.2)(245,0.3)(246,-0.35)(247,-0.2)(248,0.3)(249,0.1)
(250,-0.35)(251,0.2)(252,0.4)(253,0.1)(254,-0.3)(255,0.35)(256,0.2)(257,-0.3)(258,-1.65)(259,1.3)
(260,-0.9)(261,0.6)(262,1.5)(263,1.8)(264,0.3)(265,-1.4)(266,-1.2)(267,0.5)(268,1.8)(269,0.4)
(270,-1.1)(271,-1.3)(272,1.0)(273,1.9)(274,0.2)(275,-1.2)(276,-0.6)(277,0.8)(278,1.4)(279,0.9)
(280,1.8)(281,0.4)(282,-1.2)(283,-0.5)(284,0.8)(285,0.3)(286,-0.7)(287,-1.1)(288,0.2)(289,0.8)
(290,0.6)(291,0.9)(292,0.3)(293,-0.6)(294,-0.8)(295,-0.2)(296,0.5)(297,0.7)(298,0.4)(299,-0.3)
(300,-0.6)(301,-0.2)(302,-0.5)(303,0.3)(304,0.6)(305,0.2)(306,-0.4)(307,-0.3)(308,0.3)(309,0.6)
(310,0.4)(311,0.9)(312,0.5)(313,-0.4)(314,-0.6)(315,-0.1)(316,-0.5)(317,-0.4)(318,-0.85)(319,-0.3)
(320,0.4)(321,0.8)(322,0.5)(323,-0.2)(324,-0.5)(325,0.3)(326,0.7)(327,0.2)(328,-0.6)(329,-0.7)(330,0.1)};
\node[anchor=west, font=\fs{9.2}, inner sep=0pt, xshift=11.5pt, yshift=9pt] at (rel axis cs:0,0) {02:54:06.232};
\end{axis}
% B6
\begin{axis}[btr, height=53.5pt, at={(464pt,25.5pt)}, ymin=-10.3, ymax=7.2, ytick={-5,0,5}, minor ytick={-10,-7.5,-2.5,2.5}, yticklabels={-5,{{\fs{11}x10\textsuperscript{2}}\,0},5},
  xticklabels={6,8,10,12,14,16}, xticklabel style={font=\fs{10}}]
\addplot coordinates {(80,0)(95,0.1)(105,-0.1)(115,0.1)(121,0)(122,0)(123,-1.9)(124,2.7)(125,-0.5)(126,-1.5)(127,1.5)(128,0.8)(129,-1.2)
(130,-0.6)(131,1.2)(132,0.4)(133,-0.8)(134,0.3)(135,0.6)(136,-0.4)(137,-0.6)(138,0.5)(139,0.7)
(140,-0.3)(141,-0.8)(142,0.4)(143,0.9)(144,-0.2)(145,-0.9)(146,0.3)(147,1.0)(148,-0.5)(149,1.8)
(150,-1.2)(151,-0.5)(152,0.8)(153,-0.9)(154,0.6)(155,0.9)(156,-0.7)(157,-0.4)(158,0.6)(159,0.5)
(160,-0.6)(161,0.2)(162,0.7)(163,-0.3)(164,-0.8)(165,0.4)(166,0.9)(167,-0.2)(168,-0.7)(169,0.4)
(170,0.6)(171,-0.5)(172,-0.3)(173,0.7)(174,0.2)(175,-0.6)(176,0.1)(177,0.8)(178,-2.0)(179,-0.4)
(180,0.6)(181,-0.3)(182,-0.8)(183,0.4)(184,0.7)(185,-0.4)(186,-0.5)(187,0.6)(188,0.3)(189,-0.7)
(190,0.2)(191,0.8)(192,-0.2)(193,-0.6)(194,0.5)(195,0.3)(196,-0.5)(197,0.1)(198,0.7)(199,-0.3)
(200,-0.6)(201,0.5)(202,0.6)(203,-0.4)(204,-0.2)(205,0.7)(206,-0.3)(207,-0.7)(208,0.4)(209,0.5)
(210,-0.5)(211,0.3)(212,0.8)(213,-0.2)(214,-0.9)(215,0.2)(216,0.6)(217,-0.4)(218,0.8)(219,1.6)
(220,3.2)(221,-2.0)(222,-0.8)(223,1.2)(224,0.3)(225,-0.9)(226,0.4)(227,1.1)(228,-0.3)(229,-1.0)
(230,0.5)(231,0.9)(232,-0.4)(233,-0.8)(234,0.6)(235,1.2)(236,-0.2)(237,-1.0)(238,0.3)(239,1.0)
(240,-0.5)(241,-0.8)(242,0.7)(243,0.9)(244,-0.6)(245,-1.1)(246,0.5)(247,1.2)(248,-0.3)(249,-0.9)
(250,0.6)(251,1.1)(252,-0.4)(253,-0.7)(254,0.9)(255,1.4)(256,-0.6)(257,3.7)(258,-3.4)(259,1.6)
(260,5.9)(261,-4.5)(262,-2.0)(263,-9.8)(264,6.5)(265,-1.2)(266,-3.9)(267,2.8)(268,6.0)(269,0.5)
(270,-4.2)(271,1.8)(272,7.0)(273,1.2)(274,-7.2)(275,-2.5)(276,4.5)(277,2.0)(278,-3.0)(279,-1.2)
(280,1.6)(281,4.2)(282,0.4)(283,-1.5)(284,4.8)(285,1.0)(286,-3.0)(287,-1.6)(288,1.2)(289,2.4)
(290,2.8)(291,0.6)(292,-1.9)(293,-2.6)(294,-3.4)(295,-0.6)(296,2.0)(297,3.2)(298,1.1)(299,-1.8)
(300,-2.6)(301,-0.4)(302,1.8)(303,3.0)(304,3.7)(305,0.9)(306,-1.4)(307,-2.4)(308,-0.4)(309,1.5)
(310,2.6)(311,1.0)(312,-1.2)(313,-2.4)(314,-1.0)(315,1.2)(316,2.1)(317,0.5)(318,-1.1)(319,-1.8)
(320,0.4)(321,1.7)(322,0.9)(323,-1.2)(324,-2.2)(325,-0.5)(326,1.4)(327,2.0)(328,0.3)(329,-1.6)(330,-1.4)};
\node[anchor=west, font=\fs{9.2}, inner sep=0pt, xshift=11.5pt, yshift=9pt] at (rel axis cs:0,0) {06:04:17.382};
\end{axis}
% ---------------- texts and arrows (pixel coordinates)
\begin{scope}[yshift=387.5pt, x=0.5pt, y=-0.5pt]
\node[font=\fs{20}\bfseries] at (30,31) {A};
\node[font=\fs{20}\bfseries] at (870,30) {B};
\node[font=\fs{10.5}\bfseries] at (995,27) {CP06 BHZ};
\node[font=\fs{10}, rotate=90] at (831,368) {Amplitude (counts)};
\node[font=\fs{10}] at (1198,763) {Time (seconds since origin time)};
\node[font=\fs{10}] at (402,763) {Time (hour:minute:seconds on 15 Sep 2012)};
\foreach \x/\t in {203/00:50:50,376/00:51:10,549/00:51:30} \node[font=\fs{9.2}] at (\x,735) {\t};
\foreach \y/\t in {75/{x10\textsuperscript{6} nm/s},160/{x10\textsuperscript{6} nm/s},239/{x10\textsuperscript{6} nm/s},335/{x10\textsuperscript{6} nm/s},418/{x10\textsuperscript{4} counts},496/{x10\textsuperscript{3} Pa},582/{x10\textsuperscript{3} Pa},667/{x10\textsuperscript{2} Pa}}
  \node[font=\fs{8.7}, anchor=west, inner sep=0pt] at (12,\y) {\t};
\foreach \y/\t in {74/CP06 BHZ,159/CP07 BHZ,245/CP08 BHZ,331/CP09 BHZ,418/GO05 BHZ,500/CP01 HDH,588/CP04 HDH,670/CP10 HDH}
  \node[font=\fs{11.5}\bfseries, anchor=west, inner sep=0pt] at (661,\y) {\t};
\foreach \x/\y/\t in {669/103/(28.7 km),669/188/(18.2 km),668/273/(3.5 km),669/358/(26.1 km),669/445/(100.7 km),665/528/(5.7 km),665/612/(8.9 km),663/700/(14.6 km)}
  \node[font=\fs{11}, anchor=west, inner sep=0pt] at (\x,\y) {\t};
\foreach \x/\y in {248/462,237/551,259/634} \node[font=\fs{6}, text=arr] at (\x,\y) {SSR};
\foreach \x/\a/\b in {229/49/72,209/137/159,196/213/235,230/311/333,291/292/314,200/481/503,197/563/585,214/645/667,
  996/66/88,1006/183/205,999/301/323,999/416/438,1002/531/553,1007/636/658,1269/170/192,1267/395/417,1266/511/533,1264/621/643}
  \draw[rarr] (\x,\a) -- (\x,\b);
\end{scope}
\end{tikzpicture}
\end{document}
